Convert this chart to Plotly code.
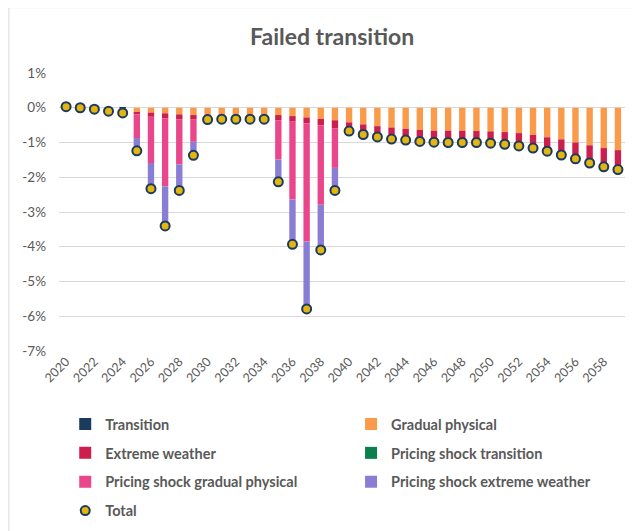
import plotly.graph_objects as go

years = [2020, 2021, 2022, 2023, 2024, 2025, 2026, 2027, 2028, 2029,
         2030, 2031, 2032, 2033, 2034, 2035, 2036, 2037, 2038, 2039,
         2040, 2041, 2042, 2043, 2044, 2045, 2046, 2047, 2048, 2049,
         2050, 2051, 2052, 2053, 2054, 2055, 2056, 2057, 2058, 2059]

transition = [0.05, 0.04, 0.03, 0.0, -0.02, 0, 0, 0, 0, 0,
              0, 0, 0, 0, 0, 0, 0, 0, 0, 0,
              0, 0, 0, 0, 0, 0, 0, 0, 0, 0,
              0, 0, 0, 0, 0, 0, 0, 0, 0, 0]

gradual_physical = [-0.02, -0.04, -0.06, -0.08, -0.10, -0.12, -0.14, -0.16, -0.19, -0.21,
                    -0.20, -0.20, -0.21, -0.21, -0.21, -0.21, -0.24, -0.28, -0.32, -0.36,
                    -0.42, -0.48, -0.53, -0.57, -0.61, -0.64, -0.66, -0.66, -0.66, -0.67,
                    -0.68, -0.70, -0.73, -0.78, -0.85, -0.91, -1.00, -1.08, -1.16, -1.22]

extreme_weather = [0.0, 0.0, -0.01, -0.02, -0.03, -0.07, -0.12, -0.15, -0.15, -0.13,
                   -0.14, -0.13, -0.12, -0.12, -0.12, -0.15, -0.16, -0.17, -0.19, -0.24,
                   -0.25, -0.29, -0.31, -0.33, -0.32, -0.33, -0.33, -0.34, -0.34, -0.33,
                   -0.34, -0.35, -0.37, -0.38, -0.40, -0.45, -0.47, -0.51, -0.54, -0.56]

ps_transition = [0, 0, 0, 0, 0, 0, 0, 0, 0, 0,
                 0, 0, 0, 0, 0, 0, 0, 0, 0, 0,
                 0, 0, 0, 0, 0, 0, 0, 0, 0, 0,
                 0, 0, 0, 0, 0, 0, 0, 0, 0, 0]

ps_gradual_physical = [0, 0, 0, 0, 0, -0.68, -1.33, -1.95, -1.29, -0.64,
                       0, 0, 0, 0, 0, -1.13, -2.24, -3.40, -2.28, -1.13,
                       0, 0, 0, 0, 0, 0, 0, 0, 0, 0,
                       0, 0, 0, 0, 0, 0, 0, 0, 0, 0]

ps_extreme_weather = [0, 0, 0, 0, 0, -0.37, -0.74, -1.14, -0.75, -0.39,
                      0, 0, 0, 0, 0, -0.64, -1.29, -1.94, -1.30, -0.65,
                      0, 0, 0, 0, 0, 0, 0, 0, 0, 0,
                      0, 0, 0, 0, 0, 0, 0, 0, 0, 0]

total = [0.03, 0.00, -0.04, -0.10, -0.15, -1.24, -2.33, -3.40, -2.38, -1.37,
         -0.34, -0.33, -0.33, -0.33, -0.33, -2.13, -3.93, -5.79, -4.09, -2.38,
         -0.67, -0.77, -0.84, -0.90, -0.93, -0.97, -0.99, -1.00, -1.00, -1.00,
         -1.02, -1.05, -1.10, -1.16, -1.25, -1.36, -1.47, -1.59, -1.70, -1.78]

y_tick_values = [1, 0, -1, -2, -3, -4, -5, -6, -7]
y_tick_labels = ["1%", "0%", "-1%", "-2%", "-3%", "-4%", "-5%", "-6%", "-7%"]

pct = lambda v: [x / 100 for x in v]

FONT = "Lato"
GREY = "#595959"

series = [
    ("Transition", transition, "#1B3A5E", "legend"),
    ("Gradual physical", gradual_physical, "#F99B4A", "legend2"),
    ("Extreme weather", extreme_weather, "#CC1F4D", "legend"),
    ("Pricing shock transition", ps_transition, "#0B7F4E", "legend2"),
    ("Pricing shock gradual physical", ps_gradual_physical, "#E9468B", "legend"),
    ("Pricing shock extreme weather", ps_extreme_weather, "#8A7DD4", "legend2"),
]

fig = go.Figure()
for name, vals, color, lg in series:
    fig.add_trace(go.Bar(
        x=years, y=pct(vals), name=name, marker=dict(color=color, line=dict(width=0)),
        legend=lg, legendgroup=name,
    ))

fig.add_trace(go.Scatter(
    x=years, y=pct(total), name="Total", mode="markers",
    marker=dict(size=9, color="#E2B512", line=dict(color="#1B3A5E", width=2)),
    legend="legend", legendgroup="Total",
))

legend_common = dict(
    orientation="v", yanchor="top", xanchor="left",
    xref="paper", yref="container",
    font=dict(family=FONT, size=14.5, color=GREY, weight="bold"),
    tracegroupgap=7, bgcolor="rgba(0,0,0,0)", itemclick=False,
)

fig.update_layout(
    width=633, height=523,
    margin=dict(l=51, r=16, t=65, b=180, autoexpand=False),
    paper_bgcolor="white", plot_bgcolor="white",
    barmode="relative", bargap=0.55,
    font=dict(family=FONT, color=GREY),
    title=dict(text="<b>Failed transition</b>", x=0.512, xanchor="center",
               xref="container", yref="container",
               y=0.945, yanchor="middle",
               font=dict(family=FONT, size=23, color=GREY)),
    xaxis=dict(
        range=[2019.5, 2059.5], tick0=2020, dtick=2, tickangle=-45,
        showgrid=False, zeroline=False, showline=False, ticks="",
        automargin=False,
        tickfont=dict(family=FONT, size=12.5, color=GREY),
    ),
    yaxis=dict(
        range=[-0.07, 0.01],
        tickmode="array", tickvals=pct(y_tick_values), ticktext=y_tick_labels,
        showgrid=True, gridcolor="#D9D9D9", gridwidth=1,
        zeroline=False, showline=False, ticks="",
        automargin=False, ticklabelstandoff=12,
        tickfont=dict(family=FONT, size=13.5, color=GREY),
    ),
    legend=dict(x=0.011, y=0.235, **legend_common),
    legend2=dict(x=0.516, y=0.235, **legend_common),
    shapes=[dict(type="rect", xref="paper", yref="paper",
                 x0=-0.0885, x1=1.2, y0=-1.0, y1=1.235,
                 line=dict(color="#D9D9D9", width=1), fillcolor="rgba(0,0,0,0)",
                 layer="below")],
)

fig.write_html("out.html")
